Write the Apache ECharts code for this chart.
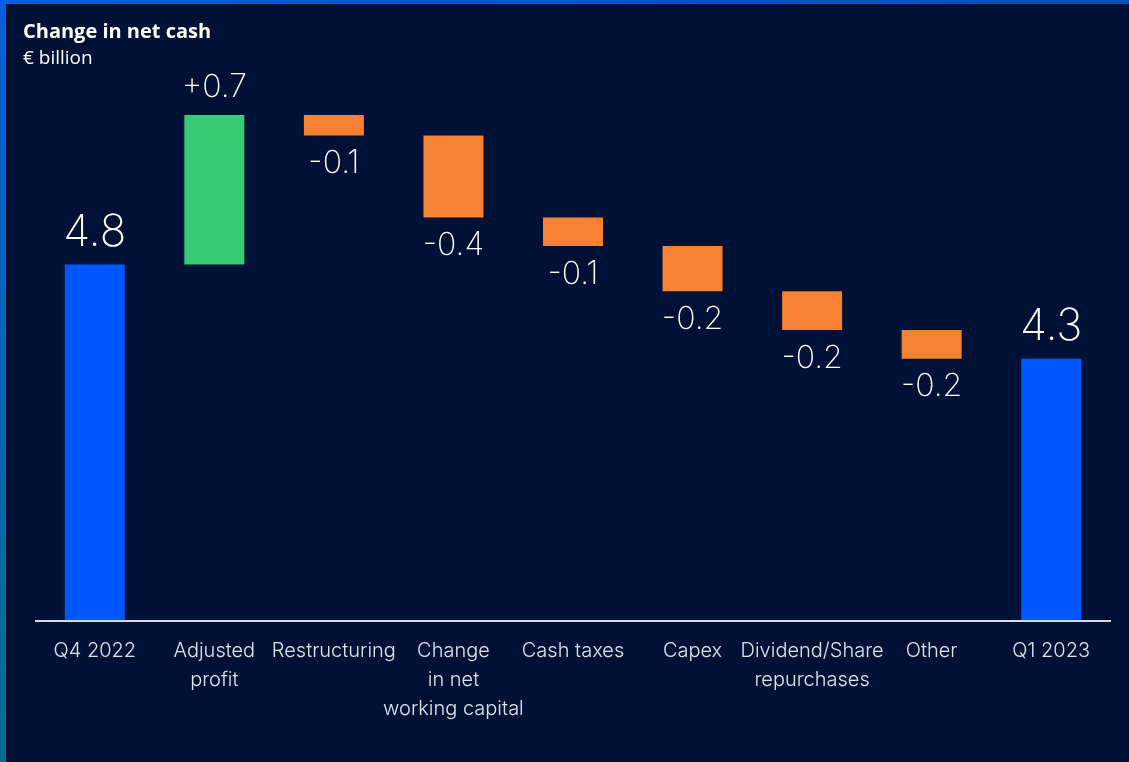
<!DOCTYPE html>
<html>
<head>
<meta charset="utf-8">
<title>Change in net cash</title>
<script src="https://cdn.jsdelivr.net/npm/echarts@6/dist/echarts.min.js"></script>
<style>
  html, body { margin: 0; padding: 0; background: #001136; }
  #chart { width: 1129px; height: 762px; }
</style>
</head>
<body>
<div id="chart"></div>
<script>
'use strict';

// categories (x axis)
var categories = ['Q4 2022', 'Adjusted\nprofit', 'Restructuring', 'Change\nin net\nworking capital',
    'Cash taxes', 'Capex', 'Dividend/Share\nrepurchases', 'Other', 'Q1 2023'];

// opening net cash, then the steps
var startValue = 4.8;
var steps = [0.73, -0.10, -0.40, -0.14, -0.22, -0.19, -0.14];

// label text as printed on the chart
var valueLabels = ['4.8', '+0.7', '-0.1', '-0.4', '-0.1', '-0.2', '-0.2', '-0.2', '4.3'];

// axis is cut, not starting at zero
var yMin = 3.06;
var yMax = 5.53;

var lightFont = 'Inter, "Open Sans", sans-serif';

// build the stacked waterfall
var base = ['-'], up = ['-'], down = ['-'], totals = [startValue];
var running = startValue;
for (var i = 0; i < steps.length; i++) {
    var next = running + steps[i];
    base.push(Math.min(running, next));
    up.push(steps[i] > 0 ? steps[i] : '-');
    down.push(steps[i] < 0 ? -steps[i] : '-');
    totals.push('-');
    running = next;
}
base.push('-'); up.push('-'); down.push('-');
totals.push(+running.toFixed(2));

function labelOf(p) { return valueLabels[p.dataIndex]; }

var chart = echarts.init(document.getElementById('chart'));

chart.setOption({
    backgroundColor: '#001136',
    animation: false,
    graphic: [{
        type: 'rect',
        shape: { x: 0, y: 0, width: 6, height: 762 },
        style: {
            fill: new echarts.graphic.LinearGradient(0, 0, 0, 1, [
                { offset: 0, color: '#0060dc' },
                { offset: 1, color: '#00708c' }
            ])
        },
        z: 10
    }, {
        type: 'rect',
        shape: { x: 0, y: 0, width: 1129, height: 4 },
        style: {
            fill: new echarts.graphic.LinearGradient(0, 0, 1, 0, [
                { offset: 0, color: '#005ee4' },
                { offset: 1, color: '#0a50b4' }
            ])
        },
        z: 10
    }, {
        type: 'text',
        left: 23,
        top: 22,
        style: {
            text: 'Change in net cash',
            fill: '#ffffff',
            font: 'bold 20px "Open Sans", sans-serif'
        }
    }, {
        type: 'text',
        left: 23,
        top: 49,
        style: {
            text: '€ billion',
            fill: '#ffffff',
            font: '19px "Open Sans", sans-serif'
        }
    }],
    grid: {
        left: 35,
        right: 18,
        top: 115,
        bottom: 141
    },
    xAxis: {
        type: 'category',
        data: categories,
        axisLine: { show: false },
        axisTick: { show: false },
        axisLabel: {
            interval: 0,
            color: '#dfe3ea',
            fontFamily: lightFont,
            fontWeight: 300,
            fontSize: 20,
            lineHeight: 29,
            margin: 15
        }
    },
    yAxis: {
        type: 'value',
        min: yMin,
        max: yMax,
        show: false,
        splitLine: { show: false }
    },
    series: [{
        name: 'base',
        type: 'bar',
        stack: 'wf',
        barWidth: 60,
        itemStyle: { color: 'transparent' },
        silent: true,
        data: base
    }, {
        name: 'increase',
        type: 'bar',
        stack: 'wf',
        barWidth: 60,
        itemStyle: { color: '#37cc73' },
        label: {
            show: true, position: 'top', distance: 12, formatter: labelOf,
            color: '#ffffff', fontFamily: lightFont, fontWeight: 200, fontSize: 32
        },
        data: up
    }, {
        name: 'decrease',
        type: 'bar',
        stack: 'wf',
        barWidth: 60,
        itemStyle: { color: '#f58232' },
        label: {
            show: true, position: 'bottom', distance: 12, formatter: labelOf,
            color: '#ffffff', fontFamily: lightFont, fontWeight: 200, fontSize: 32
        },
        data: down
    }, {
        name: 'net cash',
        type: 'bar',
        stack: 'wf',
        barWidth: 60,
        clip: true,
        itemStyle: { color: '#0057ff' },
        label: {
            show: true, position: 'top', distance: 10, formatter: labelOf,
            color: '#ffffff', fontFamily: lightFont, fontWeight: 200, fontSize: 44
        },
        data: totals
    }]
});

// baseline under the bars, placed from the grid's own coordinates
var grid = chart.getModel().getComponent('grid').coordinateSystem.getRect();
var yBase = grid.y + grid.height;
chart.setOption({
    graphic: [{
        id: 'baseline',
        type: 'line',
        shape: { x1: grid.x, y1: yBase, x2: grid.x + grid.width, y2: yBase },
        style: { stroke: '#d6dae2', lineWidth: 2 },
        z: 5
    }, {
        // keep the margin left of the plot clean
        id: 'leftMargin',
        type: 'rect',
        shape: { x: 6, y: yBase - 8, width: grid.x - 6, height: 16 },
        style: { fill: '#001136' },
        z: 9
    }]
});
</script>
</body>
</html>
